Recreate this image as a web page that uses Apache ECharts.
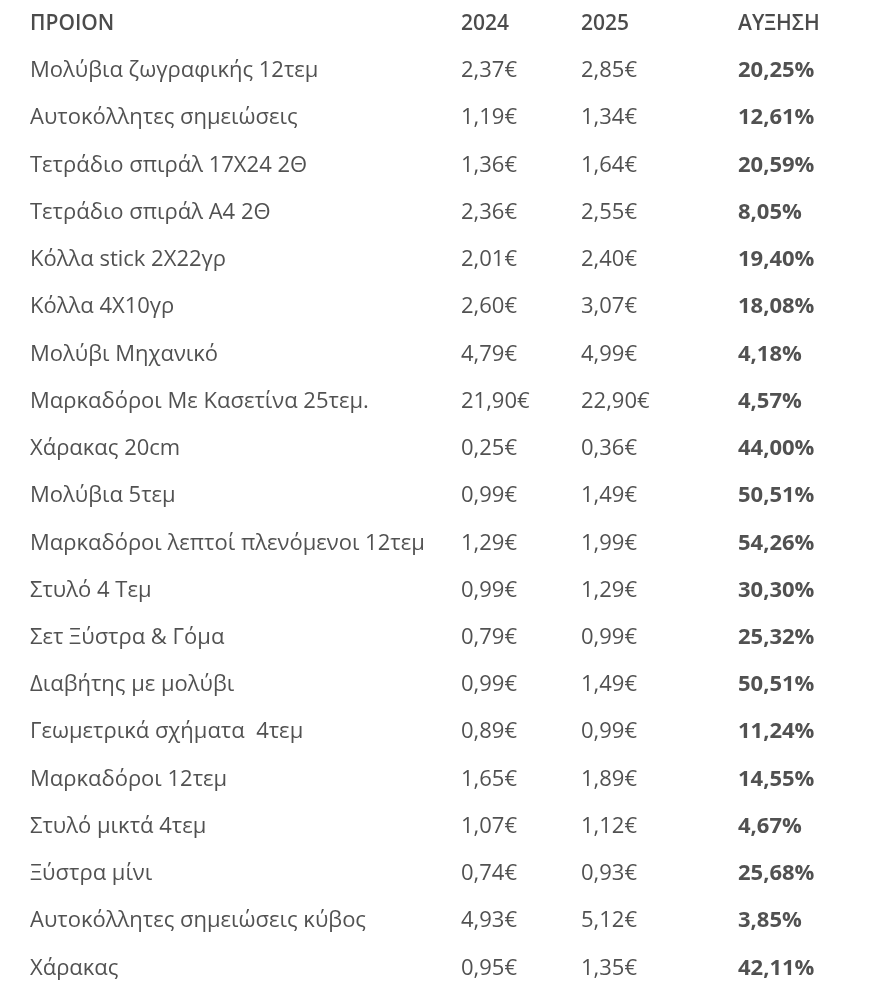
<!DOCTYPE html>
<html>
<head>
<meta charset="utf-8">
<script src="https://cdn.jsdelivr.net/npm/echarts@6/dist/echarts.min.js"></script>
<style>html,body{margin:0;padding:0;background:#fff}#chart{width:880px;height:992px}</style>
</head>
<body>
<div id="chart"></div>
<script>
const headers = ['ΠΡΟΙΟΝ', '2024', '2025', 'ΑΥΞΗΣΗ'];
const products = ['Μολύβια ζωγραφικής 12τεμ', 'Αυτοκόλλητες σημειώσεις', 'Τετράδιο σπιράλ 17Χ24 2Θ', 'Τετράδιο σπιράλ Α4 2Θ',
  'Κόλλα stick 2X22γρ', 'Κόλλα 4X10γρ', 'Μολύβι Μηχανικό', 'Μαρκαδόροι Με Κασετίνα 25τεμ.', 'Χάρακας 20cm', 'Μολύβια 5τεμ',
  'Μαρκαδόροι λεπτοί πλενόμενοι 12τεμ', 'Στυλό 4 Τεμ', 'Σετ Ξύστρα & Γόμα', 'Διαβήτης με μολύβι', 'Γεωμετρικά σχήματα  4τεμ',
  'Μαρκαδόροι 12τεμ', 'Στυλό μικτά 4τεμ', 'Ξύστρα μίνι', 'Αυτοκόλλητες σημειώσεις κύβος', 'Χάρακας'];
const price2024 = ['2,37€', '1,19€', '1,36€', '2,36€', '2,01€', '2,60€', '4,79€', '21,90€', '0,25€', '0,99€',
  '1,29€', '0,99€', '0,79€', '0,99€', '0,89€', '1,65€', '1,07€', '0,74€', '4,93€', '0,95€'];
const price2025 = ['2,85€', '1,34€', '1,64€', '2,55€', '2,40€', '3,07€', '4,99€', '22,90€', '0,36€', '1,49€',
  '1,99€', '1,29€', '0,99€', '1,49€', '0,99€', '1,89€', '1,12€', '0,93€', '5,12€', '1,35€'];
const increase = ['20,25%', '12,61%', '20,59%', '8,05%', '19,40%', '18,08%', '4,18%', '4,57%', '44,00%', '50,51%',
  '54,26%', '30,30%', '25,32%', '50,51%', '11,24%', '14,55%', '4,67%', '25,68%', '3,85%', '42,11%'];

const rows = ['h'].concat(products.map((p, i) => 'r' + i));
const colX = [30, 461, 581, 738];
const columns = [products, price2024, price2025, increase];

const series = columns.map((col, c) => ({
  type: 'scatter',
  symbolSize: 0,
  silent: true,
  data: [[colX[c], 0, headers[c], 1]].concat(col.map((v, i) => [colX[c], i + 1, v, c === 3 ? 1 : 0])).map(d => ({
    value: d,
    label: d[1] === 0
      ? { fontSize: 21, fontWeight: 600, color: '#1e1e1e' }
      : { fontSize: 22, fontWeight: d[3] ? 'bold' : 'normal' }
  })),
  label: {
    show: true,
    position: 'right',
    distance: 0,
    fontFamily: 'Open Sans',
    color: '#262626',
    formatter: p => p.value[2]
  }
}));

const chart = echarts.init(document.getElementById('chart'));
chart.setOption({
  animation: false,
  grid: { left: 0, right: 0, top: -1, height: 993 },
  xAxis: { type: 'value', min: 0, max: 880, show: false },
  yAxis: { type: 'category', data: rows, inverse: true, show: false },
  series: series
});
</script>
</body>
</html>
